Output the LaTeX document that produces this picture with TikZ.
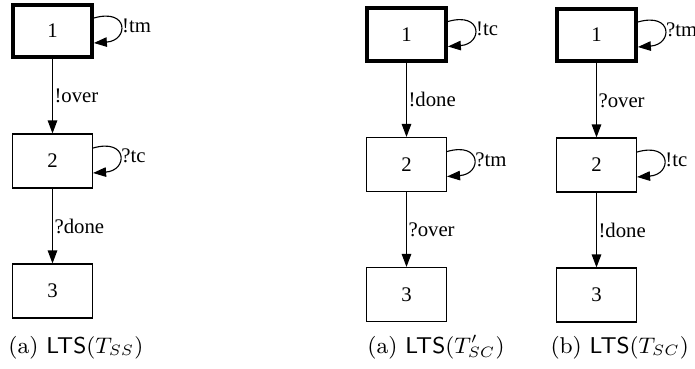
\documentclass[tikz,border=0pt]{standalone}
\usepackage{fontspec}
\newfontfamily\statefont{Liberation Serif}
\usetikzlibrary{positioning, arrows.meta}
\tikzstyle{state} = [rectangle, minimum width=32pt, minimum height=21.6pt, draw=black, line width=0.45pt, text centered, font={\fontsize{8.3}{10}\statefont}]
\tikzstyle{initstate} = [state, line width=1.6pt, minimum width=31.5pt, minimum height=21pt]
\tikzstyle{arrow} = [line width=0.45pt,-{Triangle[length=5.2pt,width=3.8pt]}]
\tikzstyle{lbl} = [anchor=west, inner sep=0.6pt, font={\fontsize{8.3}{10}\statefont}]
\tikzstyle{subcap} = [anchor=base west, inner sep=0pt, font=\fontsize{9.15}{11}\selectfont]

\begin{document}
\begin{tikzpicture}[x=0.4pt,y=-0.4pt,node distance=52pt]
    \useasboundingbox (0,0) rectangle (695,368);
                % (a) LTS(T_SS)
                \node (ss1) [initstate] at (52.5,31) {1};
                \node (ss2) [state, below of=ss1] {2};
                \node (ss3) [state, below of=ss2] {3};
                \draw [arrow] (ss1) -- node[lbl] {!over} (ss2);
                \draw [arrow] (ss2) -- node[lbl] {?done} (ss3);
                \draw [arrow] ([yshift=5.2pt]ss1.east) .. controls +(14pt,4pt) and +(14pt,1pt) .. node[lbl] {!tm} ([yshift=-4.8pt]ss1.east);
                \draw [arrow] ([yshift=5.2pt]ss2.east) .. controls +(14pt,4pt) and +(14pt,1pt) .. node[lbl] {?tc} ([yshift=-4.8pt]ss2.east);
                \node (capss) [subcap] at (8,353) {(a) \textsf{LTS}$(T_{SS})$};

                % (a) LTS(T'_SC)
                \node (sp1) [initstate] at (406.5,34.5) {1};
                \node (sp2) [state, below of=sp1] {2};
                \node (sp3) [state, below of=sp2] {3};
                \draw [arrow] (sp1) -- node[lbl] {!done} (sp2);
                \draw [arrow] (sp2) -- node[lbl] {?over} (sp3);
                \draw [arrow] ([yshift=5.2pt]sp1.east) .. controls +(14pt,4pt) and +(14pt,1pt) .. node[lbl] {!tc} ([yshift=-4.8pt]sp1.east);
                \draw [arrow] ([yshift=5.2pt]sp2.east) .. controls +(14pt,4pt) and +(14pt,1pt) .. node[lbl] {?tm} ([yshift=-4.8pt]sp2.east);
                \node (capsp) [subcap] at (367,353) {(a) \textsf{LTS}$(T'_{SC})$};

                % (b) LTS(T_SC)
                \node (sc1) [initstate] at (596.5,35) {1};
                \node (sc2) [state, below of=sc1] {2};
                \node (sc3) [state, below of=sc2] {3};
                \draw [arrow] (sc1) -- node[lbl] {?over} (sc2);
                \draw [arrow] (sc2) -- node[lbl] {!done} (sc3);
                \draw [arrow] ([yshift=5.2pt]sc1.east) .. controls +(14pt,4pt) and +(14pt,1pt) .. node[lbl] {?tm} ([yshift=-4.8pt]sc1.east);
                \draw [arrow] ([yshift=5.2pt]sc2.east) .. controls +(14pt,4pt) and +(14pt,1pt) .. node[lbl] {!tc} ([yshift=-4.8pt]sc2.east);
                \node (capsc) [subcap] at (550,353) {(b) \textsf{LTS}$(T_{SC})$};
\end{tikzpicture}
\end{document}
